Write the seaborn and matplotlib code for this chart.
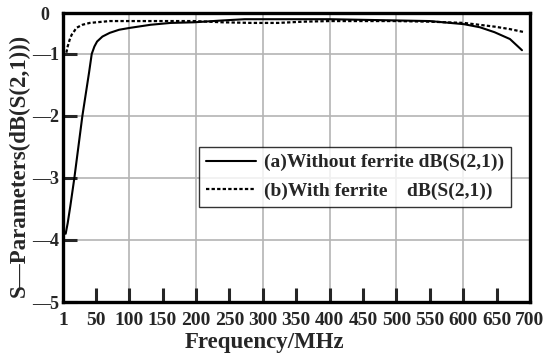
import numpy as np
import pandas as pd
import matplotlib
matplotlib.use("Agg")
import matplotlib.pyplot as plt
import seaborn as sns

# Solid curve: (a) Without ferrite
freq_a = [5, 8, 12, 18, 24, 30, 36, 40, 44, 48, 52, 60, 71, 85, 101, 132, 162,
          197, 240, 273, 318, 400, 450, 500, 550, 601, 625, 647, 670, 688]
s21_a = [-3.90, -3.73, -3.45, -3.00, -2.50, -2.00, -1.58, -1.30, -1.00, -0.88,
         -0.80, -0.72, -0.66, -0.61, -0.58, -0.53, -0.50, -0.49, -0.46, -0.44,
         -0.44, -0.44, -0.45, -0.46, -0.47, -0.52, -0.57, -0.65, -0.76, -0.94]

# Dotted curve: (b) With ferrite
freq_b = [6, 8, 11, 14, 18, 21, 30, 41, 71, 101, 132, 197, 240, 283, 323, 360,
          400, 450, 500, 550, 601, 647, 670, 692]
s21_b = [-0.98, -0.88, -0.77, -0.69, -0.63, -0.58, -0.53, -0.50, -0.47, -0.47,
         -0.47, -0.47, -0.49, -0.50, -0.50, -0.48, -0.47, -0.47, -0.47, -0.48,
         -0.50, -0.56, -0.60, -0.65]

label_a = "(a)Without ferrite dB(S(2,1))"
label_b = "(b)With ferrite    dB(S(2,1))"

x_ticks = [1, 50, 100, 150, 200, 250, 300, 350, 400, 450, 500, 550, 600, 650, 700]
y_ticks = [-5, -4, -3, -2, -1, -0.34]
y_tick_labels = ["\u20145", "\u20144", "\u20143", "\u20142", "\u20141", "0"]

sns.set_style("white")
plt.rcParams['font.family'] = ['Liberation Serif', 'DejaVu Serif']
plt.rcParams['font.weight'] = 'bold'

df_a = pd.DataFrame({"freq": freq_a, "val": s21_a})
df_b = pd.DataFrame({"freq": freq_b, "val": s21_b})

fig = plt.figure(figsize=(5.5, 3.61), dpi=100)
ax = fig.add_axes([63/550, 59/361, 467/550, 289/361])

# grid
for gx in [100, 200, 300, 400, 500, 600]:
    ax.axvline(gx, color="#b4b4b4", lw=1.2, zorder=0)
for gy in [-1, -2, -3, -4]:
    ax.axhline(gy, color="#b4b4b4", lw=1.2, zorder=0)

sns.lineplot(data=df_a, x="freq", y="val", ax=ax, color="black", lw=1.5,
             label=label_a, sort=False)
sns.lineplot(data=df_b, x="freq", y="val", ax=ax, color="black", lw=1.6,
             linestyle=(0, (1.5, 1.0)), label=label_b, sort=False)

ax.set_xlim(1, 700)
ax.set_ylim(-5, -0.34)
ax.set_xticks(x_ticks)
ax.set_xticklabels([str(t) for t in x_ticks])
ax.set_yticks(y_ticks)
ax.set_yticklabels(y_tick_labels)

ax.tick_params(axis="x", direction="in", length=10, width=2.2, labelsize=14,
               pad=7, top=False, bottom=True)
ax.tick_params(axis="y", direction="in", length=10, width=2.2, labelsize=13,
               pad=3, right=False, left=True)
# hide tick mark for "0", first and last x
zero_tick = ax.yaxis.get_major_ticks()[-1]
zero_tick.tick1line.set_visible(False)
zero_tick.set_pad(10)
ax.xaxis.get_major_ticks()[-1].tick1line.set_visible(False)
ax.xaxis.get_major_ticks()[0].tick1line.set_visible(False)
for lab in ax.get_xticklabels() + ax.get_yticklabels():
    lab.set_fontweight("bold")

for sp in ax.spines.values():
    sp.set_linewidth(2.4)
    sp.set_color("black")
    sp.set_visible(True)

ax.set_xlabel("Frequency/MHz", fontsize=16.5, fontweight="bold")
ax.set_ylabel("S\u2014Parameters(dB(S(2,1)))", fontsize=16.5, fontweight="bold")
ax.xaxis.set_label_coords(0.432, -0.105)
ax.yaxis.set_label_coords(-0.07, 0.474)

leg = ax.legend(loc="upper left", bbox_to_anchor=(136/467, (302-147)/289),
                borderaxespad=0.0,
                frameon=True, fancybox=False, edgecolor="black",
                prop={"family": "Liberation Serif", "weight": "bold", "size": 14},
                handlelength=2.6, labelspacing=0.55, borderpad=0.35,
                handletextpad=0.4)
leg.get_frame().set_linewidth(1.0)

fig.savefig("out.png", dpi=100)
